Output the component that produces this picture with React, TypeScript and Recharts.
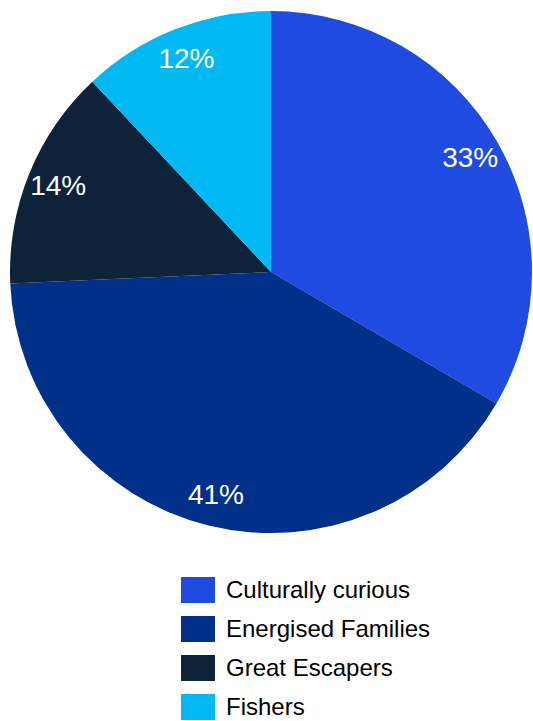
import React from 'react';
import { PieChart, Pie, Cell } from 'recharts';

const categories = ['Culturally curious', 'Energised Families', 'Great Escapers', 'Fishers'];
const shares = [33.4, 40.9, 13.7, 12.0];
const colors = ['#1F4BE0', '#003087', '#0E2239', '#00B9F2'];

const data = categories.map((name, i) => ({ name, value: shares[i] }));

const RAD = Math.PI / 180;
const FONT = 'Liberation Sans, Arial, sans-serif';

const renderLabel = (props: any) => {
  const { cx, cy, midAngle, outerRadius, value } = props;
  const r = outerRadius * 0.88;
  const x = cx + r * Math.cos(-midAngle * RAD);
  const y = cy + r * Math.sin(-midAngle * RAD);
  return (
    <text
      x={x}
      y={y}
      fill="#ffffff"
      textAnchor="middle"
      dominantBaseline="central"
      style={{ fontFamily: FONT, fontSize: 28 }}
    >
      {`${Math.round(value)}%`}
    </text>
  );
};

export default function App() {
  return (
    <div style={{ position: 'absolute', left: 0, top: 0, width: 533, height: 721, background: '#fff' }}>
      <PieChart width={533} height={560} margin={{ top: 0, right: 0, bottom: 0, left: 0 }}>
        <Pie
          data={data}
          dataKey="value"
          nameKey="name"
          cx={271}
          cy={272}
          outerRadius={261}
          startAngle={90}
          endAngle={-270}
          stroke="none"
          label={renderLabel}
          labelLine={false}
          isAnimationActive={false}
        >
          {data.map((d, i) => (
            <Cell key={d.name} fill={colors[i]} />
          ))}
        </Pie>
      </PieChart>
      <div style={{ position: 'absolute', left: 181, top: 570, fontFamily: FONT }}>
        {categories.map((name, i) => (
          <div key={name} style={{ display: 'flex', alignItems: 'center', height: 39 }}>
            <div style={{ width: 34, height: 26, background: colors[i], marginRight: 11 }} />
            <span style={{ fontSize: 24, color: '#000', lineHeight: '26px' }}>{name}</span>
          </div>
        ))}
      </div>
    </div>
  );
}
